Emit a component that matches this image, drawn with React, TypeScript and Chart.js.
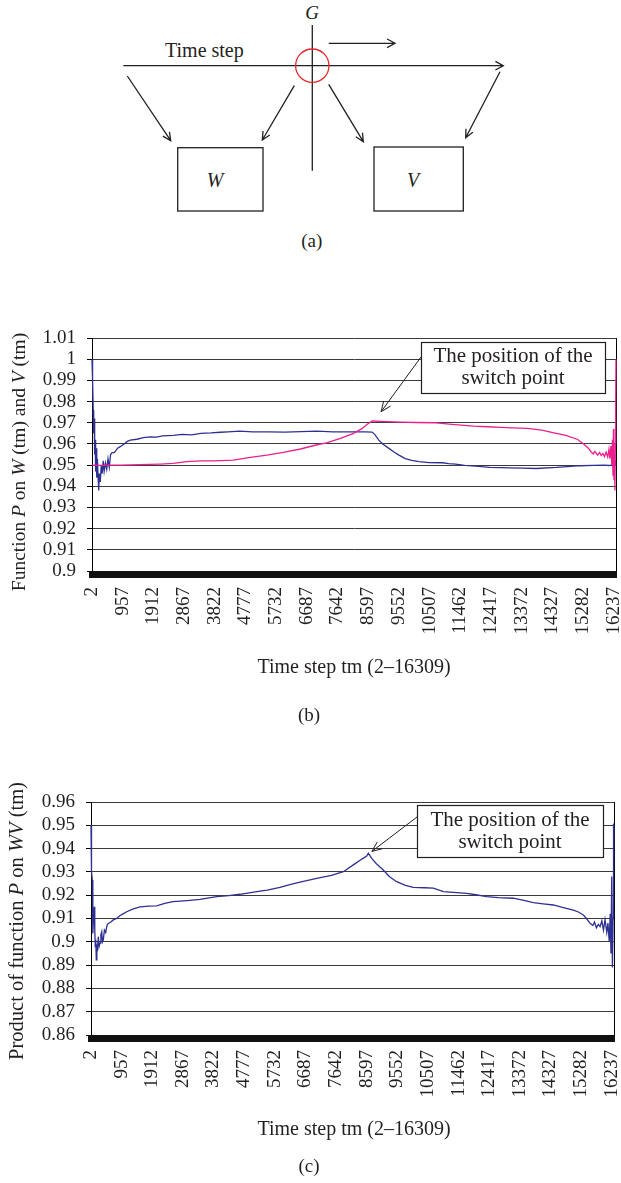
import React, { useEffect, useRef } from "react";
import { Chart, registerables } from "chart.js";
Chart.register(...registerables);

// ---------- data ----------
const X_MIN = 2;
const X_MAX = 16309;
const X_TICKS = [2, 957, 1912, 2867, 3822, 4777, 5732, 6687, 7642, 8597, 9552, 10507, 11462, 12417, 13372, 14327, 15282, 16237];
const Y_TICKS_B = [0.9, 0.91, 0.92, 0.93, 0.94, 0.95, 0.96, 0.97, 0.98, 0.99, 1.0, 1.01];
const Y_TICKS_C = [0.86, 0.87, 0.88, 0.89, 0.9, 0.91, 0.92, 0.93, 0.94, 0.95, 0.96];

// Function P on W (tm)
const W_T = [2, 20, 40, 55, 70, 85, 100, 115, 130, 150, 170, 190, 210, 230, 260, 290, 320, 350, 380, 420, 460, 500, 540, 580, 620, 700, 800, 880, 1000, 1100, 1193, 1400, 1600, 1820, 2000, 2200, 2541, 2800, 3100, 3388, 3700, 4000, 4234, 4600, 5000, 5500, 6000, 6500, 7000, 7500, 8000, 8500, 8717, 8800, 8927, 9050, 9240, 9400, 9554, 9751, 9950, 10180, 10500, 10911, 11100, 11319, 11600, 11946, 12375, 12700, 13002, 13400, 13826, 14453, 14800, 15196, 15600, 15926, 16100, 16200, 16250, 16280, 16309];
const W_P = [1.0, 0.99, 0.976, 0.965, 0.972, 0.955, 0.962, 0.947, 0.958, 0.944, 0.953, 0.945, 0.938, 0.946, 0.942, 0.95, 0.946, 0.952, 0.947, 0.951, 0.948, 0.953, 0.949, 0.955, 0.9558, 0.956, 0.958, 0.9587, 0.96, 0.9612, 0.9618, 0.9622, 0.963, 0.9633, 0.9632, 0.9638, 0.964, 0.9645, 0.9643, 0.965, 0.9652, 0.9655, 0.9657, 0.966, 0.9657, 0.9657, 0.9656, 0.9658, 0.966, 0.9657, 0.9657, 0.9657, 0.9656, 0.9645, 0.9618, 0.96, 0.9579, 0.9562, 0.9547, 0.9531, 0.9522, 0.9516, 0.9512, 0.9511, 0.9507, 0.9505, 0.9499, 0.9495, 0.9489, 0.9488, 0.9487, 0.9486, 0.9484, 0.9489, 0.9493, 0.9497, 0.9499, 0.95, 0.9498, 0.95, 0.948, 0.952, 0.95];

// Function P on V (tm)
const V_T = [2, 300, 600, 900, 1200, 1500, 1800, 2122, 2528, 2955, 3370, 3800, 4399, 4929, 5449, 5958, 6488, 7009, 7300, 7736, 8140, 8400, 8568, 8724, 9000, 9606, 10100, 10635, 11200, 11882, 12300, 12724, 13100, 13557, 14000, 14377, 14750, 15116, 15300, 15450, 15530, 15600, 15650, 15739, 15800, 15850, 15900, 15950, 16000, 16051, 16090, 16120, 16150, 16180, 16200, 16215, 16230, 16245, 16260, 16275, 16290, 16300, 16309];
const V_P = [0.95, 0.9499, 0.95, 0.95, 0.9501, 0.9502, 0.9503, 0.9505, 0.9508, 0.9516, 0.952, 0.952, 0.9523, 0.9536, 0.9547, 0.956, 0.9576, 0.9596, 0.9605, 0.9626, 0.965, 0.9672, 0.9693, 0.9708, 0.9706, 0.9703, 0.9701, 0.97, 0.9692, 0.9684, 0.9681, 0.9678, 0.9676, 0.9673, 0.9665, 0.9652, 0.964, 0.9621, 0.96, 0.958, 0.9563, 0.9553, 0.9565, 0.9547, 0.956, 0.9545, 0.9555, 0.954, 0.9562, 0.9538, 0.9575, 0.953, 0.959, 0.95, 0.962, 0.945, 0.967, 0.943, 0.955, 0.938, 0.96, 0.98, 1.0];

// Product of function P on WV (tm)
const WV_T = [2, 11, 25, 43, 55, 64, 80, 105, 120, 136, 150, 167, 185, 200, 230, 255, 283, 310, 336, 360, 386, 420, 460, 500, 541, 620, 697, 800, 900, 1000, 1115, 1300, 1530, 1800, 2051, 2300, 2559, 3000, 3401, 3922, 4300, 4648, 5169, 5500, 5895, 6200, 6519, 7040, 7500, 7869, 8181, 8450, 8599, 8649, 8700, 8755, 8900, 9116, 9300, 9534, 9800, 10052, 10400, 10676, 10988, 11300, 11717, 12000, 12341, 12700, 13170, 13500, 13794, 14100, 14418, 14700, 15042, 15200, 15354, 15450, 15563, 15650, 15700, 15760, 15820, 15875, 15930, 15980, 16030, 16084, 16120, 16160, 16190, 16215, 16238, 16260, 16280, 16290, 16300, 16309];
const WV_P = [0.95, 0.95, 0.93, 0.9265, 0.912, 0.9036, 0.91, 0.915, 0.905, 0.8979, 0.901, 0.8922, 0.899, 0.896, 0.9022, 0.898, 0.8994, 0.903, 0.9043, 0.9, 0.9008, 0.905, 0.904, 0.907, 0.9079, 0.9085, 0.9094, 0.91, 0.9112, 0.912, 0.9129, 0.914, 0.915, 0.9153, 0.9154, 0.9165, 0.9172, 0.9177, 0.9182, 0.9194, 0.9198, 0.9204, 0.9215, 0.9222, 0.9234, 0.9245, 0.9256, 0.9272, 0.9285, 0.9301, 0.933, 0.9355, 0.9368, 0.938, 0.937, 0.9358, 0.9335, 0.9308, 0.928, 0.9258, 0.9242, 0.9234, 0.9232, 0.923, 0.9215, 0.9212, 0.9208, 0.9202, 0.9194, 0.919, 0.9187, 0.9178, 0.9168, 0.9163, 0.9158, 0.9148, 0.9136, 0.9128, 0.9115, 0.91, 0.9079, 0.907, 0.9085, 0.906, 0.9075, 0.9065, 0.909, 0.905, 0.9095, 0.904, 0.908, 0.9, 0.912, 0.895, 0.928, 0.889, 0.91, 0.9508, 0.93, 0.95];

const ANNOT_LINES = ["The position of the", "switch point"];
const TIP_B = { x: 9000, y: 0.9752 };
const TIP_C = { x: 8760, y: 0.9388 };

// ---------- style ----------
const SERIF = "'Liberation Serif', 'Times New Roman', serif";
const BLUE = "#2e3192";
const PINK = "#ec1f8e";
const INK = "#231f20";

function fmt(v: number) {
  return String(parseFloat(Number(v).toFixed(2)));
}

function drawArrow(ctx: CanvasRenderingContext2D, x1: number, y1: number, x2: number, y2: number, len = 10, ang = 0.42) {
  const a = Math.atan2(y2 - y1, x2 - x1);
  ctx.beginPath();
  ctx.moveTo(x1, y1);
  ctx.lineTo(x2, y2);
  ctx.moveTo(x2 - len * Math.cos(a - ang), y2 - len * Math.sin(a - ang));
  ctx.lineTo(x2, y2);
  ctx.lineTo(x2 - len * Math.cos(a + ang), y2 - len * Math.sin(a + ang));
  ctx.stroke();
}

const decoPlugin = {
  id: "deco",
  beforeDatasetsDraw(chart: any) {
    const { right, top, bottom } = chart.chartArea;
    const ctx = chart.ctx;
    ctx.save();
    ctx.strokeStyle = "#000";
    ctx.lineWidth = 1;
    ctx.beginPath();
    ctx.moveTo(Math.round(right) + 0.5, top);
    ctx.lineTo(Math.round(right) + 0.5, bottom);
    ctx.stroke();
    ctx.restore();
  },
  afterDraw(chart: any, _args: any, opts: any) {
    const { left, right, top, bottom } = chart.chartArea;
    const ctx = chart.ctx;
    ctx.save();
    // dense tick band of the category axis
    ctx.fillStyle = "#111";
    ctx.fillRect(left - 3, bottom, right - left + 4, opts.band);
    // annotation
    const bx = Math.round(right - opts.fromRight);
    const by = Math.round(top + opts.dy);
    ctx.fillStyle = "#fff";
    ctx.fillRect(bx, by, opts.w, opts.h);
    ctx.strokeStyle = INK;
    ctx.lineWidth = 1.2;
    ctx.strokeRect(bx + 0.5, by + 0.5, opts.w, opts.h);
    ctx.fillStyle = INK;
    ctx.font = `21px ${SERIF}`;
    ctx.textAlign = "center";
    ctx.textBaseline = "middle";
    ANNOT_LINES.forEach((ln, i) => {
      ctx.fillText(ln, bx + opts.w / 2, by + opts.l1 + i * opts.lh);
    });
    const tx = chart.scales.x.getPixelForValue(opts.tip.x);
    const ty = chart.scales.y.getPixelForValue(opts.tip.y);
    ctx.lineWidth = 1;
    drawArrow(ctx, bx, by + opts.startDy, tx, ty, 11, 0.4);
    ctx.restore();
  },
};

type LCProps = {
  top: number;
  height: number;
  datasets: any[];
  yTicks: number[];
  padTop: number;
  padRight: number;
  yWidth: number;
  xHeight: number;
  xPad: number;
  deco: any;
};

function LineChart(p: LCProps) {
  const ref = useRef<HTMLCanvasElement>(null);
  useEffect(() => {
    const tickFont = { family: SERIF, size: 19 };
    const chart = new Chart(ref.current!, {
      type: "line",
      data: { datasets: p.datasets },
      options: {
        animation: false,
        responsive: false,
        devicePixelRatio: 1,
        layout: { padding: { top: p.padTop, right: p.padRight, left: 0, bottom: 0 } },
        plugins: { legend: { display: false }, tooltip: { enabled: false }, deco: p.deco } as any,
        elements: { point: { radius: 0 }, line: { tension: 0 } },
        scales: {
          x: {
            type: "linear",
            min: X_MIN,
            max: X_MAX,
            afterBuildTicks: (s: any) => {
              s.ticks = X_TICKS.map((v) => ({ value: v }));
            },
            afterFit: (s: any) => {
              s.height = p.xHeight;
              s.paddingLeft = 0;
              s.paddingRight = 0;
            },
            ticks: {
              autoSkip: false,
              minRotation: 90,
              maxRotation: 90,
              padding: p.xPad,
              color: INK,
              font: tickFont,
              callback: (v: any) => String(v),
            },
            grid: { display: false, drawTicks: false },
            border: { display: false },
          },
          y: {
            type: "linear",
            min: p.yTicks[0],
            max: p.yTicks[p.yTicks.length - 1],
            afterBuildTicks: (s: any) => {
              s.ticks = p.yTicks.map((v) => ({ value: v }));
            },
            afterFit: (s: any) => {
              s.width = p.yWidth;
              s.paddingTop = 0;
              s.paddingBottom = 0;
            },
            ticks: {
              autoSkip: false,
              padding: 11,
              color: INK,
              font: tickFont,
              callback: (v: any) => fmt(v),
            },
            grid: { color: "#3a3a3a", tickColor: "#000", tickLength: 5, lineWidth: 1 },
            border: { color: "#000", width: 1 },
          },
        },
      },
      plugins: [decoPlugin as any],
    });
    return () => chart.destroy();
  }, []);
  return (
    <canvas
      ref={ref}
      width={621}
      height={p.height}
      style={{ position: "absolute", left: 0, top: p.top, width: 621, height: p.height }}
    />
  );
}

function pts(ts: number[], vs: number[]) {
  return ts.map((t, i) => ({ x: t, y: vs[i] }));
}

function arrowPath(x1: number, y1: number, x2: number, y2: number, len = 9, ang = 0.45) {
  const a = Math.atan2(y2 - y1, x2 - x1);
  const ax = x2 - len * Math.cos(a - ang);
  const ay = y2 - len * Math.sin(a - ang);
  const bx = x2 - len * Math.cos(a + ang);
  const by = y2 - len * Math.sin(a + ang);
  return `M${x1},${y1} L${x2},${y2} M${ax},${ay} L${x2},${y2} L${bx},${by}`;
}

function Diagram() {
  const st = { stroke: INK, strokeWidth: 1.3, fill: "none" };
  return (
    <svg width={621} height={255} style={{ position: "absolute", left: 0, top: 0 }}>
      <text x={312} y={18.5} fontFamily={SERIF} fontSize={19} fontStyle="italic" textAnchor="middle" fill={INK}>G</text>
      <text x={165} y={56.5} fontFamily={SERIF} fontSize={20} fill={INK}>Time step</text>
      <path d={`M312.3,25 L312.3,170.7`} {...st} />
      <path d={arrowPath(123.3, 65.7, 503.3, 65.7, 9, 0.5)} {...st} />
      <circle cx={312.3} cy={65.7} r={16.7} stroke="#e8262a" strokeWidth={1.3} fill="none" />
      <path d={arrowPath(328.7, 43.3, 395, 43.3, 9, 0.5)} {...st} />
      <path d={arrowPath(127.3, 76, 170.7, 140.7)} {...st} />
      <path d={arrowPath(294.3, 85.7, 262.3, 140)} {...st} />
      <path d={arrowPath(328.7, 84.3, 363.3, 141.7)} {...st} />
      <path d={arrowPath(500, 71.7, 465.7, 137.7)} {...st} />
      <rect x={177.7} y={147.7} width={85.3} height={63.3} {...st} />
      <rect x={374} y={147} width={89.3} height={64} {...st} />
      <text x={215} y={187} fontFamily={SERIF} fontSize={20} fontStyle="italic" textAnchor="middle" fill={INK}>W</text>
      <text x={413} y={187} fontFamily={SERIF} fontSize={20} fontStyle="italic" textAnchor="middle" fill={INK}>V</text>
      <text x={311.7} y={247} fontFamily={SERIF} fontSize={19} textAnchor="middle" fill={INK}>(a)</text>
    </svg>
  );
}

function Label(props: { x: number; y: number; size: number; rotate?: boolean; children: any }) {
  return (
    <div
      style={{
        position: "absolute",
        left: props.x,
        top: props.y,
        transform: `translate(-50%, -50%)${props.rotate ? " rotate(-90deg)" : ""}`,
        fontFamily: SERIF,
        fontSize: props.size,
        color: INK,
        whiteSpace: "nowrap",
        lineHeight: 1,
      }}
    >
      {props.children}
    </div>
  );
}

export default function App() {
  const dsB = [
    { data: pts(V_T, V_P), borderColor: PINK, borderWidth: 1.3, pointRadius: 0, clip: 4 },
    { data: pts(W_T, W_P), borderColor: BLUE, borderWidth: 1.3, pointRadius: 0, clip: 4 },
  ];
  const dsC = [{ data: pts(WV_T, WV_P), borderColor: BLUE, borderWidth: 1.3, pointRadius: 0, clip: 4 }];
  return (
    <div style={{ position: "absolute", left: 0, top: 0, width: 621, height: 1183, background: "#fff", overflow: "hidden" }}>
      <Diagram />
      <LineChart
        top={330}
        height={330}
        datasets={dsB}
        yTicks={Y_TICKS_B}
        padTop={8}
        padRight={5}
        yWidth={92}
        xHeight={89}
        xPad={16}
        deco={{ band: 7, fromRight: 195, dy: 4, w: 184, h: 51, l1: 14, lh: 22, startDy: 15, tip: TIP_B }}
      />
      <LineChart
        top={790}
        height={330}
        datasets={dsC}
        yTicks={Y_TICKS_C}
        padTop={12}
        padRight={7}
        yWidth={91}
        xHeight={85}
        xPad={15}
        deco={{ band: 7, fromRight: 197, dy: 3, w: 186, h: 52, l1: 15, lh: 22, startDy: 12, tip: TIP_C }}
      />
      <Label x={19} y={462} size={19.5} rotate>
        Function <i>P</i> on <i>W</i> (tm) and <i>V</i> (tm)
      </Label>
      <Label x={354} y={666} size={20}>Time step tm (2–16309)</Label>
      <Label x={309} y={714} size={19}>(b)</Label>
      <Label x={16} y={921} size={20.5} rotate>
        Product of function <i>P</i> on <i>WV</i> (tm)
      </Label>
      <Label x={354} y={1128} size={20}>Time step tm (2–16309)</Label>
      <Label x={309} y={1165} size={19}>(c)</Label>
    </div>
  );
}
